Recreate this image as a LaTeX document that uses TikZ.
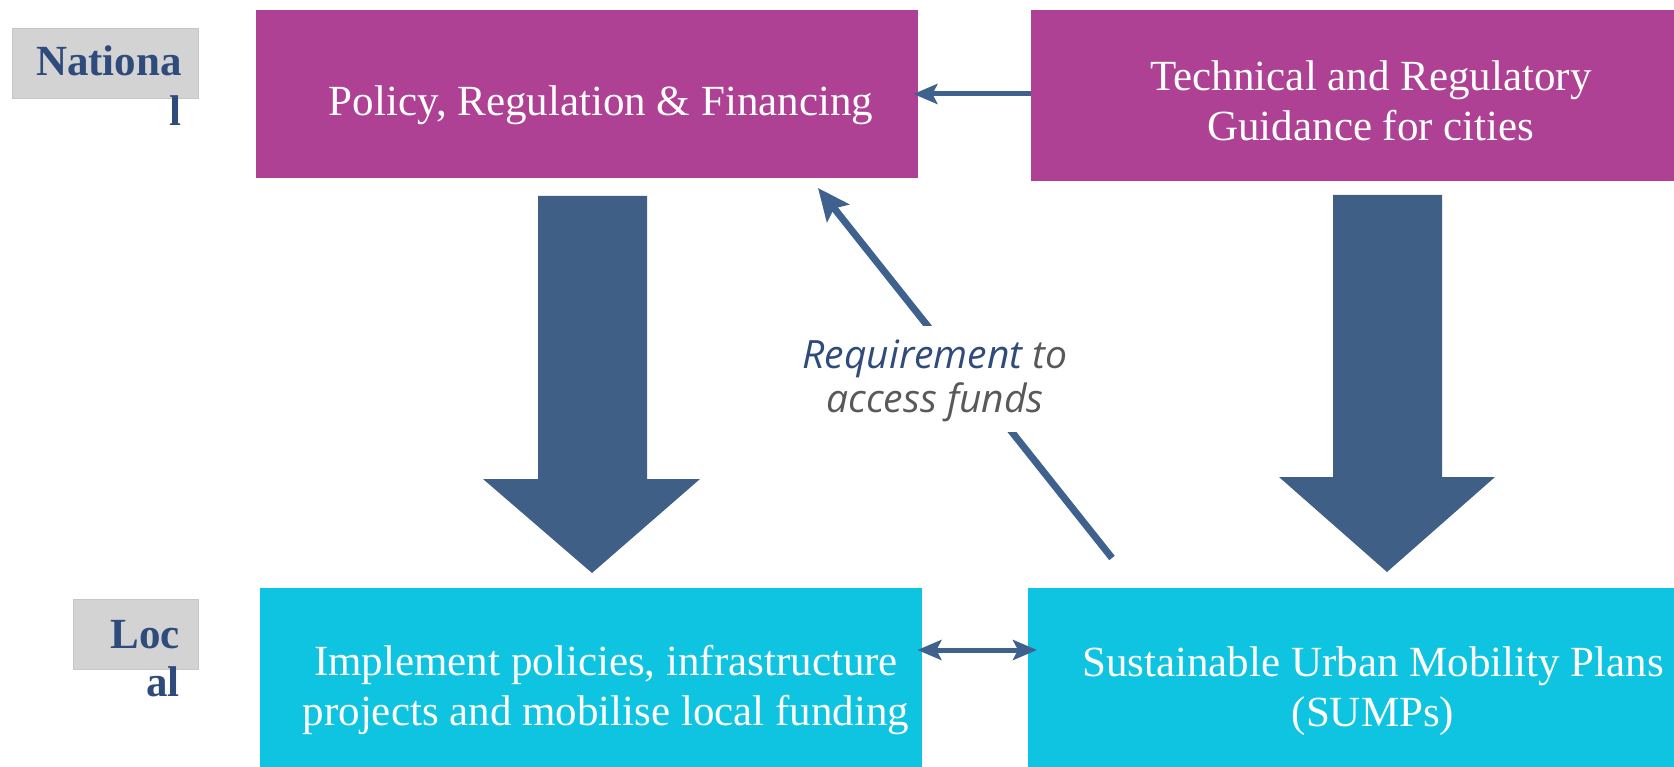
\documentclass[tikz,border=0pt]{standalone}
\usepackage{fontspec}
\setmainfont{Liberation Serif}
\newfontfamily\reqfont{Open Sans}
\usetikzlibrary{arrows.meta,calc}
\definecolor{magbox}{RGB}{174,65,148}
\definecolor{cyanbox}{RGB}{14,196,224}
\definecolor{bigblue}{RGB}{64,95,134}
\definecolor{thinblue}{RGB}{62,97,142}
\definecolor{lvlblue}{RGB}{47,75,124}
\definecolor{lvlgray}{RGB}{211,211,211}
\definecolor{txtgray}{RGB}{89,89,89}
\newcommand{\tstrut}{\rule{0pt}{35pt}}
\begin{document}
\begin{tikzpicture}[x=1pt,y=-1pt,
  box/.style={draw=none, inner sep=0pt, anchor=north west},
  boxtext/.style={inner sep=0pt, anchor=north, align=center, text=white, font=\fontsize{43}{50}\selectfont},
  lvlbox/.style={fill=lvlgray, draw=black!22, line width=1pt, inner sep=0pt, anchor=north west},
  lvltext/.style={inner sep=0pt, anchor=north east, align=right, text=lvlblue, font=\bfseries\fontsize{43}{50}\selectfont},
  thinarrow/.style={draw=thinblue, line width=5pt, -{Stealth[length=24pt,width=20pt,inset=5pt]}}
]
\useasboundingbox (0,0) rectangle (1674,767);
\clip (0,0) rectangle (1674,767);
% boxes
\node[box, fill=magbox, minimum width=662pt, minimum height=168pt] (policy) at (256,10) {};
\node[box, fill=magbox, minimum width=690pt, minimum height=171pt] (tech) at (1031,10) {};
\node[box, fill=cyanbox, minimum width=662pt, minimum height=220pt] (impl) at (260,588) {};
\node[box, fill=cyanbox, minimum width=690pt, minimum height=220pt] (sumps) at (1028,588) {};
% box texts
\node[boxtext] (policyt) at (601,80) {\tstrut Policy, Regulation \& Financing};
\node[boxtext] (techt) at (1371,55) {\tstrut Technical and Regulatory\\Guidance for cities};
\node[boxtext] (implt) at (606,640) {\tstrut Implement policies, infrastructure\\projects and mobilise local funding};
\node[boxtext] (sumpst) at (1373,641) {\tstrut Sustainable Urban Mobility Plans\\(SUMPs)};
% level labels
\node[lvlbox, minimum width=186pt, minimum height=70pt] (natbox) at (12,28) {};
\node[lvltext] (natt) at (182,40) {\tstrut Nationa\\l};
\node[lvlbox, minimum width=125pt, minimum height=70pt] (locbox) at (73,599) {};
\node[lvltext, font=\bfseries\fontsize{43}{48}\selectfont] (loct) at (180,613) {\tstrut Loc\\al};
% big arrows
\fill[bigblue] (538,196) -- (647,196) -- (647,479) -- (700,479) -- (592,573) -- (483,479) -- (538,479) -- cycle;
\fill[bigblue] (1333,195) -- (1442,195) -- (1442,477) -- (1495,477) -- (1387,572) -- (1279,477) -- (1333,477) -- cycle;
% thin arrows
\draw[thinarrow, shorten >=-5pt] (tech.west |- 0,94) -- (policy.east |- 0,94);
\draw[thinarrow, {Stealth[length=24pt,width=20pt,inset=5pt]}-{Stealth[length=24pt,width=20pt,inset=5pt]}, shorten <=-5pt, shorten >=-9pt] (impl.east |- 0,650) -- (sumps.west |- 0,650);
\coordinate (reqtail) at (1112,558);
\coordinate (reqtip) at (818,188);
\draw[thinarrow, line width=7pt, -{Stealth[length=32pt,width=28pt,inset=6pt]}] (reqtail) -- (reqtip);
\node[fill=white, inner xsep=6pt, inner ysep=10pt, anchor=north, align=center, font=\reqfont\itshape\fontsize{39}{44}\selectfont] (req) at (935,326) {\rule{0pt}{32pt}\textcolor{lvlblue}{Requirement} \textcolor{txtgray}{to}\\\textcolor{txtgray}{access funds}};
\end{tikzpicture}
\end{document}
